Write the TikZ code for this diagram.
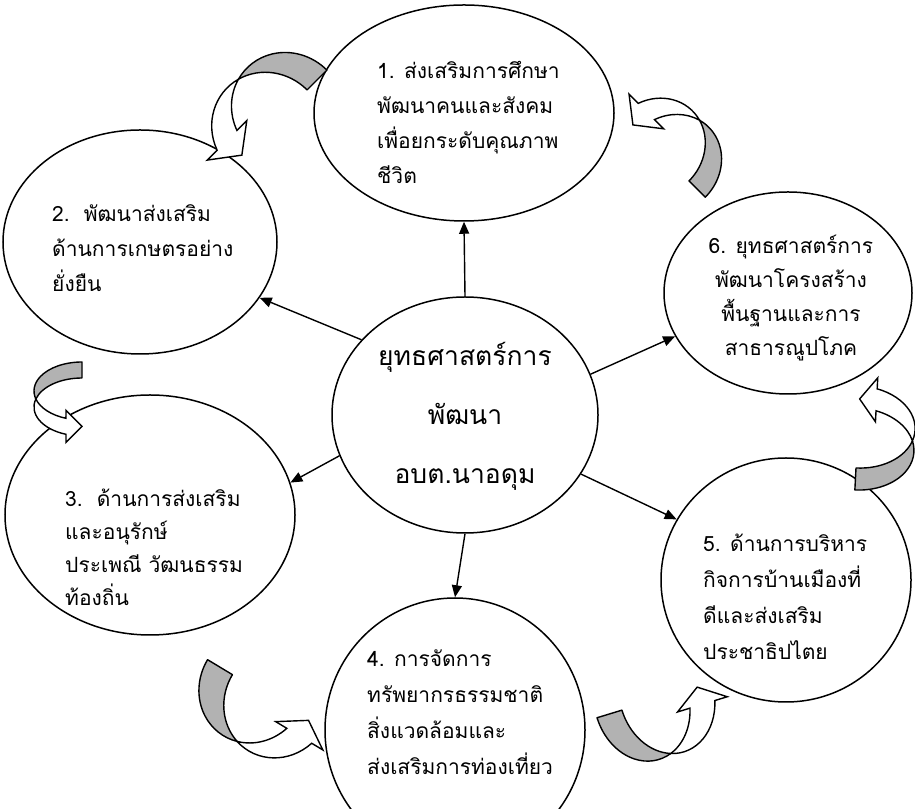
\documentclass[tikz,border=0pt]{standalone}
\usepackage{fontspec}
\newfontfamily\thaifont[Script=Thai]{Loma}
\usetikzlibrary{shapes.geometric,arrows.meta}
\tikzset{
  ell/.style={draw, ellipse, line width=1.5pt, inner sep=0pt},
  conn/.style={line width=1.4pt, -{Triangle[length=12pt,width=10pt]}},
  cband/.style={draw, line width=1.4pt, fill=black!30, line join=round},
  cbody/.style={draw, line width=1.4pt, fill=white, line join=miter},
  txt/.style={inner sep=0pt, anchor=north west, align=left, font=\thaifont\fontsize{21}{35}\selectfont},
}
% curved block arrow: #1 X, #2 Y, #3 rotation, #4 a, #5 b, #6 thickness, #7 head length, #8 barb
\newcommand\curvarrow[8]{%
\begin{scope}[shift={(#1,#2)},rotate=#3]
\pgfmathsetmacro\cA{#4}\pgfmathsetmacro\cB{#5}\pgfmathsetmacro\cT{#6}%
\pgfmathsetmacro\cH{#7}\pgfmathsetmacro\cE{#8}%
\pgfmathsetmacro\cAl{asin(\cT/(2*\cB))}%
\pgfmathsetmacro\cThc{180+\cAl}%
\pgfmathsetmacro\cPhc{180-\cAl}%
\pgfmathsetmacro\cThe{180+acos(\cH/\cA)}%
\pgfmathsetmacro\cYu{\cB*sin(\cThe)}%
\pgfmathsetmacro\cYl{\cYu-\cT}%
\pgfmathsetmacro\cYt{(\cYu+\cYl)/2}%
\pgfmathsetmacro\cXc{\cA*cos(\cThc)}%
\pgfmathsetmacro\cYc{\cB*sin(\cThc)}%
\draw[cband] (0,\cB) arc[start angle=90,end angle=\cThc,x radius=\cA pt,y radius=\cB pt]
  arc[start angle=\cPhc,end angle=90,x radius=\cA pt,y radius=\cB pt] -- cycle;
\draw[cbody] (\cXc,\cYc) arc[start angle=\cPhc,end angle=\cThe,x radius=\cA pt,y radius=\cB pt]
  -- (-\cH,\cYl-\cE) -- (0,\cYt) -- (-\cH,\cYu+\cE) -- (-\cH,\cYu)
  arc[start angle=\cThe,end angle=\cThc,x radius=\cA pt,y radius=\cB pt] -- cycle;
\end{scope}}
\begin{document}
\begin{tikzpicture}[x=1pt,y=1pt]
\useasboundingbox (0,0) rectangle (915,808);
\fill[white] (0,0) rectangle (915,808);
\clip (0,0) rectangle (915,808);
% ellipses
\node[ell, minimum width=300pt, minimum height=216pt] (e1) at (464,695) {};
\node[ell, minimum width=274pt, minimum height=224pt] (e2) at (140,566) {};
\node[ell, minimum width=290pt, minimum height=240pt] (e3) at (150,293) {};
\node[ell, minimum width=260pt, minimum height=264pt] (e4) at (455,78) {};
\node[ell, minimum width=250pt, minimum height=244pt] (e5) at (786,228) {};
\node[ell, minimum width=248pt, minimum height=202pt] (e6) at (788,515) {};
\node[ell, minimum width=266pt, minimum height=236pt] (c) at (465,393) {};
% texts
\node[txt] (t1) at (377,756) {\rule{0pt}{26pt}1. ส่งเสริมการศึกษา\\พัฒนาคนและสังคม\\เพื่อยกระดับคุณภาพ\\ชีวิต};
\node[txt] (t2) at (52,613) {\rule{0pt}{26pt}2.\ \ พัฒนาส่งเสริม\\ด้านการเกษตรอย่าง\\ยั่งยืน};
\node[txt, font=\thaifont\fontsize{21}{33}\selectfont] (t3) at (65,328) {\rule{0pt}{26pt}3.\ \ ด้านการส่งเสริม\\และอนุรักษ์\\ประเพณี วัฒนธรรม\\ท้องถิ่น};
\node[txt, font=\thaifont\fontsize{21}{36}\selectfont] (t4) at (367,168) {\rule{0pt}{26pt}4. การจัดการ\\ทรัพยากรธรรมชาติ\\สิ่งแวดล้อมและ\\ส่งเสริมการท่องเที่ยว};
\node[txt, font=\thaifont\fontsize{21}{36}\selectfont] (t5) at (703,283) {\rule{0pt}{26pt}5. ด้านการบริหาร\\กิจการบ้านเมืองที่\\ดีและส่งเสริม\\ประชาธิปไตย};
\node[txt, anchor=north, align=center, font=\thaifont\fontsize{21}{34}\selectfont] (t6) at (791,581) {\rule{0pt}{26pt}6. ยุทธศาสตร์การ\\พัฒนาโครงสร้าง\\พื้นฐานและการ\\สาธารณูปโภค};
\node[txt, anchor=north, align=center, font=\thaifont\fontsize{26.5}{59}\selectfont] (tc) at (465,477) {\rule{0pt}{34pt}ยุทธศาสตร์การ\\พัฒนา\\อบต.นาอดุม};
% connectors
\draw[conn] (c.north) -- (e1.south);
\draw[conn] (c.144) -- (e2.-25);
\draw[conn] (c.198) -- (e3.13);
\draw[conn] (c.south) -- (e4.north);
\draw[conn] (c.18) -- (e6.201);
\draw[conn] (c.-27) -- (e5.151);
% curved block arrows
\curvarrow{288}{699}{-45}{58}{55}{28}{21}{14}
\curvarrow{82}{417}{0}{48}{29}{16}{16}{8}
\curvarrow{253}{121}{59}{57}{53}{29}{18}{13}
\curvarrow{642}{104}{107}{58}{47}{26}{18}{13}
\curvarrow{857}{359}{177}{57}{41}{22}{17}{11}
\curvarrow{672}{644}{-135}{52}{47}{23}{19}{13}
\end{tikzpicture}
\end{document}
